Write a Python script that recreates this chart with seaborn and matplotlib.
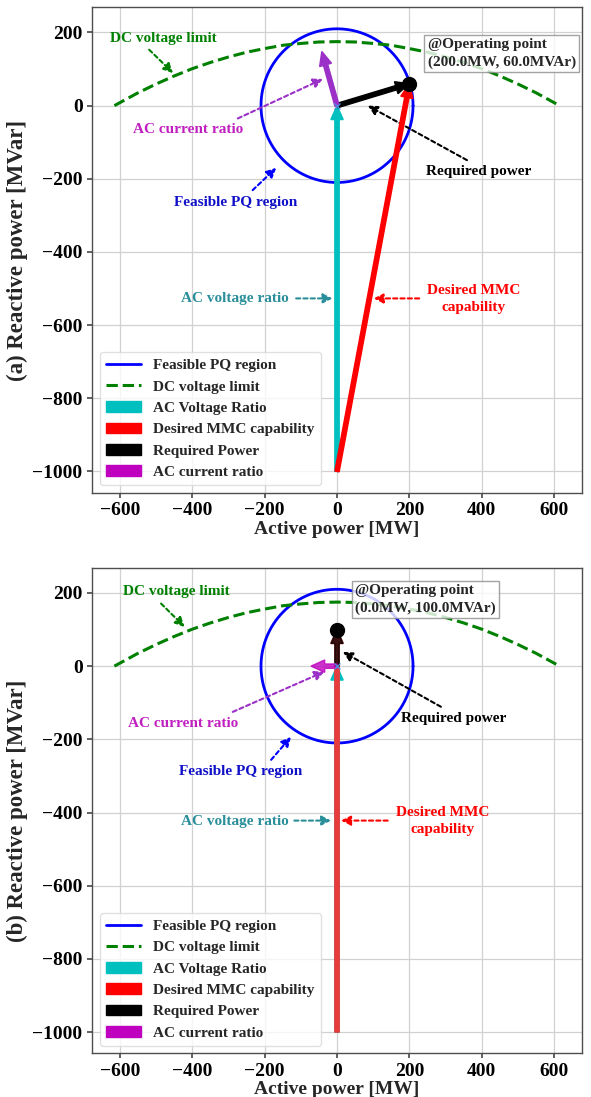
import numpy as np
import pandas as pd
import matplotlib
matplotlib.use("Agg")
import matplotlib.pyplot as plt
import matplotlib.patches as mpatches
import seaborn as sns

# ---- data -------------------------------------------------------------
panel_tags = ["(a)", "(b)"]
op_p = [200.0, 0.0]            # operating point, active power [MW]
op_q = [60.0, 100.0]           # operating point, reactive power [MVAr]
ac_current_p = [-42.0, -72.0]  # AC current ratio vector tip
ac_current_q = [148.0, 0.0]
vector_origin_q = -1000.0      # AC voltage / MMC vectors start here
feasible_radius = 210.0        # radius of the feasible PQ circle

dc_limit_p = [-615, -550, -500, -450, -400, -350, -300, -250, -200, -150, -100, -50, 0,
              50, 100, 150, 200, 250, 300, 350, 400, 450, 500, 550, 615]
dc_limit_q = [0, 35, 59, 81, 101, 118, 133, 146, 156, 165, 170, 174, 175,
              174, 170, 165, 156, 146, 133, 118, 101, 81, 59, 35, 0]

x_ticks = [-600, -400, -200, 0, 200, 400, 600]
y_ticks = [-1000, -800, -600, -400, -200, 0, 200]

# ---- style ------------------------------------------------------------
sns.set_theme(style="whitegrid")
plt.rcParams.update({
    "font.family": ["Liberation Serif", "DejaVu Serif"],
    "font.weight": "bold",
    "axes.labelweight": "bold",
    "axes.edgecolor": "0.3",
    "axes.linewidth": 1.0,
    "grid.color": "0.82",
    "grid.linewidth": 0.9,
    "xtick.bottom": True,
    "ytick.left": True,
    "xtick.color": "0.3",
    "ytick.color": "0.3",
    "xtick.labelcolor": "black",
    "ytick.labelcolor": "black",
    "xtick.major.size": 3.5,
    "ytick.major.size": 3.5,
    "axes.unicode_minus": True,
})

CYAN = "#00bfbf"
RED = "#ff0000"
BLACK = "#000000"
MAGENTA = "#bf00bf"
AC_V_COLOR = "#2a8f9a"
AC_I_ARROW = "#9b30c8"

theta = np.linspace(0, 2 * np.pi, 361)
circle_df = pd.DataFrame({"P": feasible_radius * np.cos(theta),
                          "Q": feasible_radius * np.sin(theta)})
dc_df = pd.DataFrame({"P": dc_limit_p, "Q": dc_limit_q})

fig = plt.figure(figsize=(5.91, 10.97), dpi=100)
ax_a = fig.add_axes([0.1562, 0.5509, 0.8281, 0.4425])
ax_b = fig.add_axes([0.1562, 0.0398, 0.8281, 0.4427])

TXT = dict(fontsize=11, fontweight="bold")


def pointer(ax, tail, head, color):
    ax.annotate("", xy=head, xytext=tail,
                arrowprops=dict(arrowstyle="-|>", color=color, lw=1.5,
                                linestyle=(0, (2, 1.5)), mutation_scale=14,
                                shrinkA=0, shrinkB=0))


# annotation layout per panel: text centre, arrow tail, arrow head
notes = [
    {
        "dc": ((-479, 183), (-519, 153), (-453, 89)),
        "ic": ((-410, -65), (-274, -35), (-39, 73)),
        "pq": ((-280, -264), (-233, -231), (-168, -170)),
        "vr": ((-281, -527), (-113, -527), (-12, -527)),
        "mmc": ((377, -529), (227, -527), (101, -527)),
        "req": ((392, -179), (359, -149), (85, 0)),
        "mmc_color": RED,
        "req_alpha": 1.0,
        "ic_color": AC_I_ARROW,
        "ic_alpha": 1.0,
    },
    {
        "dc": ((-444, 203), (-486, 171), (-421, 107)),
        "ic": ((-424, -156), (-288, -125), (-35, -15)),
        "pq": ((-265, -288), (-182, -256), (-127, -193)),
        "vr": ((-283, -425), (-118, -422), (-16, -422)),
        "mmc": ((292, -423), (140, -422), (11, -422)),
        "req": ((321, -143), (287, -111), (16, 39)),
        "mmc_color": "#e83c3c",
        "req_alpha": 0.75,
        "ic_color": MAGENTA,
        "ic_alpha": 0.8,
    },
]

for i, ax in enumerate([ax_a, ax_b]):
    n = notes[i]
    P, Q = op_p[i], op_q[i]

    sns.lineplot(data=circle_df, x="P", y="Q", sort=False, estimator=None,
                 color="blue", lw=2.0, ax=ax, label="Feasible PQ region")
    sns.lineplot(data=dc_df, x="P", y="Q", sort=False, estimator=None,
                 color="green", lw=2.2, ls="--", ax=ax, label="DC voltage limit")

    aw = dict(width=12, head_width=34, head_length=38, length_includes_head=True)
    ax.arrow(0, vector_origin_q, 0, -vector_origin_q, color=CYAN, zorder=3, **aw)
    ax.arrow(0, vector_origin_q, P, Q - vector_origin_q, color=n["mmc_color"],
             zorder=4, **aw)
    ax.arrow(0, 0, P, Q, color=BLACK, alpha=n["req_alpha"], zorder=5, **aw)
    ax.arrow(0, 0, ac_current_p[i], ac_current_q[i], color=n["ic_color"],
             alpha=n["ic_alpha"], zorder=6, **aw)

    ax.plot([0], [0], marker="x", color="#4a90e2", ms=5, mew=0.9, zorder=7)
    ax.plot([P], [Q], marker="o", color=BLACK, ms=10, zorder=8)

    # text call-outs
    for key, color, tcolor, label in [
        ("dc", "green", "green", "DC voltage limit"),
        ("ic", AC_I_ARROW, "#c020c0", "AC current ratio"),
        ("pq", "blue", "#1010c8", "Feasible PQ region"),
        ("vr", AC_V_COLOR, AC_V_COLOR, "AC voltage ratio"),
        ("mmc", "red", "red", "Desired MMC\ncapability"),
        ("req", "black", "black", "Required power"),
    ]:
        (tx, ty), tail, head = n[key]
        ax.text(tx, ty, label, color=tcolor, ha="center", va="center",
                linespacing=1.45, **TXT)
        pointer(ax, tail, head, color)

    ax.text(P + 50, Q + 40, f"@Operating point\n({P:.1f}MW, {Q:.1f}MVAr)",
            ha="left", va="bottom", linespacing=1.45, zorder=9, **TXT,
            bbox=dict(boxstyle="square,pad=0.2", fc="white", ec="0.55", lw=1.0,
                      alpha=0.8))

    ax.set_xlim(-676, 676)
    ax.set_ylim(-1058, 269)
    ax.set_xticks(x_ticks)
    ax.set_yticks(y_ticks)
    ax.tick_params(labelsize=14)
    for lab in ax.get_xticklabels() + ax.get_yticklabels():
        lab.set_fontweight("bold")
    ax.set_xlabel("Active power [MW]", fontsize=14, fontweight="bold", labelpad=1)
    ax.set_ylabel(f"{panel_tags[i]} Reactive power [MVar]", fontsize=16.5,
                  fontweight="bold", labelpad=3)

    handles, labels = ax.get_legend_handles_labels()
    for col, lab in [(CYAN, "AC Voltage Ratio"), (RED, "Desired MMC capability"),
                     (BLACK, "Required Power"), (MAGENTA, "AC current ratio")]:
        handles.append(mpatches.Patch(color=col))
        labels.append(lab)
    leg = ax.legend(handles, labels, loc="lower left",
                    prop=dict(size=11, weight="bold"),
                    frameon=True, fancybox=True, framealpha=0.8,
                    handlelength=2.3)
    leg.get_frame().set_edgecolor("0.85")

fig.savefig("out.png", dpi=100)
